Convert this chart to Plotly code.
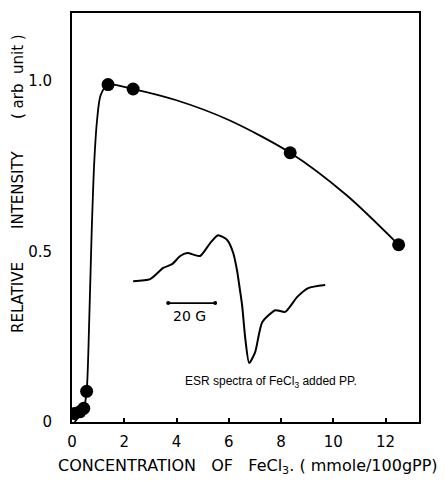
import plotly.graph_objects as go

# Measured points
conc = [0.1, 0.3, 0.45, 0.56, 1.38, 2.34, 8.35, 12.5]
intensity = [0.025, 0.03, 0.04, 0.09, 0.99, 0.977, 0.79, 0.52]

# Hand-drawn guide curve
curve_x = [0.1, 0.3, 0.45, 0.56, 0.66, 0.75, 0.85, 0.96, 1.1, 1.38, 2.34, 4.0, 6.0, 8.35, 10.5, 12.5]
curve_y = [0.0, 0.02, 0.04, 0.09, 0.3, 0.55, 0.76, 0.886, 0.96, 0.99, 0.977, 0.944, 0.886, 0.79, 0.666, 0.52]

# Inset ESR spectrum trace (drawn in plot units)
esr_x = [2.34, 2.99, 3.49, 3.83, 4.14, 4.41, 4.90, 5.29, 5.59, 5.94, 6.17, 6.32, 6.40,
         6.51, 6.63, 6.78, 7.01, 7.28, 7.78, 8.16, 8.62, 9.04, 9.69]
esr_y = [0.413, 0.419, 0.452, 0.463, 0.487, 0.496, 0.487, 0.525, 0.548, 0.534, 0.496, 0.443, 0.402,
         0.343, 0.246, 0.173, 0.205, 0.293, 0.328, 0.323, 0.367, 0.393, 0.402]

# Scale bar (20 G)
bar_x = [3.68, 5.48]
bar_y = [0.349, 0.349]

x_ticks = [0, 2, 4, 6, 8, 10, 12]
x_tick_labels = ["0", "2", "4", "6", "8", "10", "12"]
y_ticks = [0, 0.5, 1.0]
y_tick_labels = ["0", "0.5", "1.0"]

FONT = "DejaVu Sans"

fig = go.Figure()
fig.add_trace(go.Scatter(x=curve_x, y=curve_y, mode="lines",
                         line=dict(color="black", width=1.8, shape="spline", smoothing=0.8),
                         hoverinfo="skip", showlegend=False))
fig.add_trace(go.Scatter(x=conc, y=intensity, mode="markers",
                         marker=dict(color="black", size=13), showlegend=False))
fig.add_trace(go.Scatter(x=esr_x, y=esr_y, mode="lines",
                         line=dict(color="black", width=2, shape="spline", smoothing=0.6),
                         hoverinfo="skip", showlegend=False))
fig.add_trace(go.Scatter(x=bar_x, y=bar_y, mode="lines+markers",
                         line=dict(color="black", width=1.8),
                         marker=dict(color="black", size=4),
                         hoverinfo="skip", showlegend=False))

fig.add_annotation(x=4.5, y=0.312, xref="x", yref="y", text="20 G", showarrow=False,
                   xanchor="center", yanchor="middle",
                   font=dict(family=FONT, size=14, color="black"))
fig.add_annotation(x=7.6, y=0.117, xref="x", yref="y",
                   text="ESR spectra of FeCl<sub>3</sub> added PP.", showarrow=False,
                   xanchor="center", yanchor="middle",
                   font=dict(family="Liberation Sans", size=12, color="black"))

# Pixel-placed axis titles (converted to paper coords below)
fig.add_annotation(x=248, y=466, xref="paper", yref="paper", showarrow=False,
                   xanchor="center", yanchor="middle",
                   text="CONCENTRATION   OF   FeCl<sub>3</sub>. ( mmole/100gPP)",
                   font=dict(family=FONT, size=16, color="black"))
for txt, cy in [("RELATIVE", 298), ("INTENSITY", 190), ("( arb  unit )", 77)]:
    fig.add_annotation(x=18, y=cy, xref="paper", yref="paper", showarrow=False, textangle=-90,
                       xanchor="center", yanchor="middle", text=txt,
                       font=dict(family=FONT, size=15, color="black"))

L, R, T, B = 72, 26, 13, 59
W, H = 445, 481
pw, ph = W - L - R, H - T - B
for ann in fig.layout.annotations:
    if ann.xref == "paper":
        ann.x = (ann.x - L) / pw
        ann.y = (H - B - ann.y) / ph

fig.update_layout(
    width=W, height=H,
    margin=dict(l=L, r=R, t=T, b=B, pad=0),
    plot_bgcolor="white", paper_bgcolor="white",
    font=dict(family=FONT, size=15, color="black"),
    xaxis=dict(range=[0, 13.28], tickvals=x_ticks, ticktext=x_tick_labels,
               showgrid=False, zeroline=False, showline=True, mirror=True,
               linecolor="black", linewidth=2, ticks="inside", ticklen=4,
               tickcolor="black", tickwidth=1.5, tickfont=dict(size=15),
               ticklabelstandoff=5),
    yaxis=dict(range=[0, 1.2], tickvals=y_ticks, ticktext=y_tick_labels,
               showgrid=False, zeroline=False, showline=True, mirror=True,
               linecolor="black", linewidth=2, ticks="", ticklabelstandoff=15,
               tickfont=dict(size=15)),
)

fig.write_html("out.html", config={"displayModeBar": False},
               post_script="document.body.style.margin='0';document.body.style.overflow='hidden';")
